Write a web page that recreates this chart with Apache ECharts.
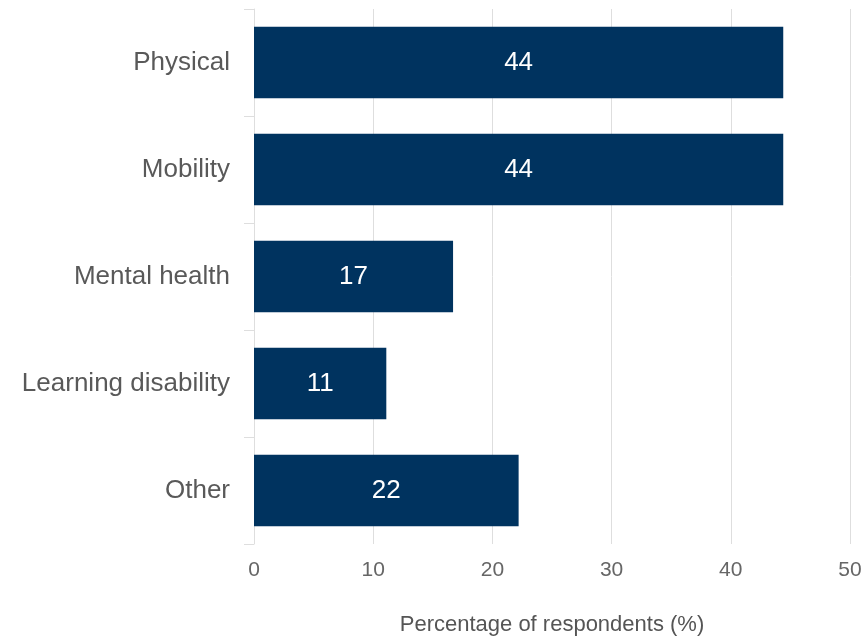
<!DOCTYPE html>
<html>
<head>
<meta charset="utf-8">
<script src="https://cdn.jsdelivr.net/npm/echarts@6/dist/echarts.min.js"></script>
<style>
  html, body { margin: 0; padding: 0; background: #fff; }
  #chart { width: 868px; height: 641px; }
</style>
</head>
<body>
<div id="chart"></div>
<script>
// Types of disability reported (top to bottom)
const categories = ['Physical', 'Mobility', 'Mental health', 'Learning disability', 'Other'];
// Share of respondents, %
const percentages = [44.4, 44.4, 16.7, 11.1, 22.2];
// Horizontal axis ticks
const xTicks = [0, 10, 20, 30, 40, 50];

const chart = echarts.init(document.getElementById('chart'), null, { renderer: 'canvas' });

chart.setOption({
  animation: false,
  backgroundColor: '#ffffff',
  grid: { left: 254, right: 18, top: 9, bottom: 97, containLabel: false, outerBoundsMode: 'none' },
  xAxis: {
    type: 'value',
    min: xTicks[0],
    max: xTicks[xTicks.length - 1],
    interval: xTicks[1] - xTicks[0],
    name: 'Percentage of respondents (%)',
    nameLocation: 'middle',
    nameGap: 70,
    nameTextStyle: { fontFamily: 'Liberation Sans', fontSize: 22, color: '#555555' },
    axisLine: { show: false },
    axisTick: { show: false },
    axisLabel: { fontFamily: 'Liberation Sans', fontSize: 21, color: '#666666', margin: 16 },
    splitLine: { show: true, lineStyle: { color: '#dedede', width: 1 } }
  },
  yAxis: {
    type: 'category',
    data: categories,
    inverse: true,
    axisLine: { show: true, lineStyle: { color: '#dedede', width: 1 } },
    axisTick: { show: true, length: 10, lineStyle: { color: '#dedede' } },
    axisLabel: { fontFamily: 'Liberation Sans', fontSize: 26, color: '#595959', margin: 24 }
  },
  series: [{
    type: 'bar',
    data: percentages,
    barCategoryGap: '33%',
    itemStyle: { color: '#00335f' },
    label: {
      show: true,
      position: 'inside',
      color: '#ffffff',
      fontFamily: 'Liberation Sans',
      fontSize: 26,
      formatter: p => Math.round(p.value)
    }
  }]
});
</script>
</body>
</html>
